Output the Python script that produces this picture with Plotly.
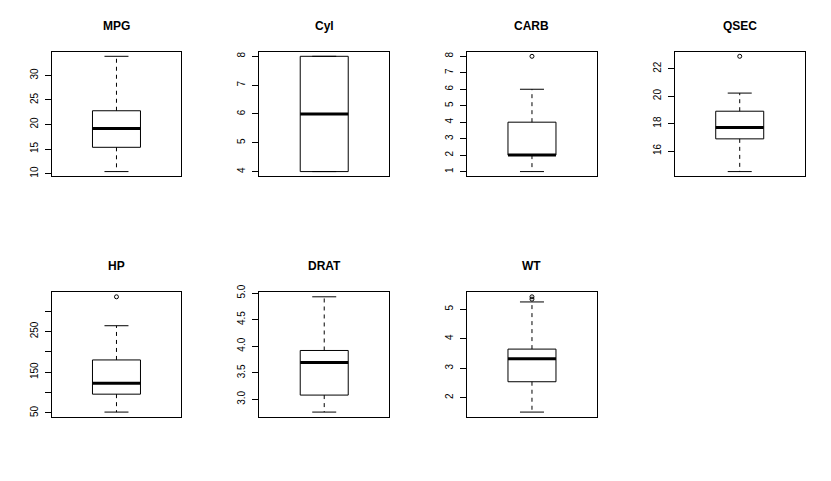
import plotly.graph_objects as go

# ---- data (five-number summaries) ----
names = ["MPG", "Cyl", "CARB", "QSEC", "HP", "DRAT", "WT"]
lower_whisker = [10.4, 4, 1, 14.5, 52, 2.76, 1.513]
q1 = [15.35, 4, 2, 16.885, 96, 3.08, 2.5425]
median = [19.2, 6, 2, 17.71, 123, 3.695, 3.325]
q3 = [22.8, 8, 4, 18.9, 180, 3.92, 3.65]
upper_whisker = [33.9, 8, 6, 20.22, 264, 4.93, 5.25]
outliers = [[], [], [8], [22.9], [335], [], [5.345, 5.424]]
tick_values = [
    [10, 15, 20, 25, 30],
    [4, 5, 6, 7, 8],
    [1, 2, 3, 4, 5, 6, 7, 8],
    [16, 18, 20, 22],
    [50, 100, 150, 200, 250, 300],
    [3.0, 3.5, 4.0, 4.5, 5.0],
    [2, 3, 4, 5],
]
tick_labels = [
    ["10", "15", "20", "25", "30"],
    ["4", "5", "6", "7", "8"],
    ["1", "2", "3", "4", "5", "6", "7", "8"],
    ["16", "18", "20", "22"],
    ["50", "", "150", "", "250", ""],
    ["3.0", "3.5", "4.0", "4.5", "5.0"],
    ["2", "3", "4", "5"],
]

# ---- layout constants (pixels) ----
W, H = 831, 481
NCOL, NROW = 4, 2
cell_w, cell_h = W / NCOL, H / NROW
m_left, m_right, m_top, m_bottom = 51.7, 26.5, 51.7, 64.3
BOX_HALF = 0.2
CAP_HALF = 0.1
FONT = "Liberation Sans, Arial, Helvetica, sans-serif"

fig = go.Figure()
layout = dict(
    template="none",
    width=W, height=H, margin=dict(l=0, r=0, t=0, b=0, autoexpand=False),
    paper_bgcolor="white", plot_bgcolor="white", showlegend=False,
    font=dict(family=FONT, color="black", size=10),
)
annotations = []

for i, name in enumerate(names):
    r, c = divmod(i, NCOL)
    x0 = c * cell_w + m_left
    x1 = (c + 1) * cell_w - m_right
    ytop = r * cell_h + m_top
    ybot = (r + 1) * cell_h - m_bottom
    sfx = "" if i == 0 else str(i + 1)
    xa, ya = "x" + sfx, "y" + sfx

    line = dict(color="black", width=1)
    # box
    fig.add_trace(go.Scatter(
        x=[1 - BOX_HALF, 1 + BOX_HALF, 1 + BOX_HALF, 1 - BOX_HALF, 1 - BOX_HALF],
        y=[q1[i], q1[i], q3[i], q3[i], q1[i]],
        mode="lines", line=line, xaxis=xa, yaxis=ya, hoverinfo="skip"))
    # whiskers (dashed)
    fig.add_trace(go.Scatter(
        x=[1, 1, None, 1, 1],
        y=[q3[i], upper_whisker[i], None, q1[i], lower_whisker[i]],
        mode="lines", line=dict(color="black", width=1, dash="4px,4px"),
        xaxis=xa, yaxis=ya, hoverinfo="skip"))
    # caps
    fig.add_trace(go.Scatter(
        x=[1 - CAP_HALF, 1 + CAP_HALF, None, 1 - CAP_HALF, 1 + CAP_HALF],
        y=[upper_whisker[i], upper_whisker[i], None, lower_whisker[i], lower_whisker[i]],
        mode="lines", line=line, xaxis=xa, yaxis=ya, hoverinfo="skip"))
    # median
    fig.add_trace(go.Scatter(
        x=[1 - BOX_HALF, 1 + BOX_HALF], y=[median[i], median[i]],
        mode="lines", line=dict(color="black", width=3),
        xaxis=xa, yaxis=ya, hoverinfo="skip"))
    # outliers
    if outliers[i]:
        fig.add_trace(go.Scatter(
            x=[1] * len(outliers[i]), y=outliers[i], mode="markers",
            marker=dict(symbol="circle-open", size=4, color="black",
                        line=dict(width=1, color="black")),
            xaxis=xa, yaxis=ya, hoverinfo="skip"))

    lo = min([lower_whisker[i]] + outliers[i])
    hi = max([upper_whisker[i]] + outliers[i])
    ext = 0.04 * (hi - lo)

    layout["xaxis" + sfx] = dict(
        domain=[x0 / W, x1 / W], range=[0.46, 1.54], anchor=ya,
        showgrid=False, zeroline=False, showticklabels=False, ticks="",
        showline=True, mirror=True, linecolor="black", linewidth=1,
        automargin=False, fixedrange=True)
    layout["yaxis" + sfx] = dict(
        domain=[1 - ybot / H, 1 - ytop / H], range=[lo - ext, hi + ext],
        anchor=xa, showgrid=False, zeroline=False,
        tickmode="array", tickvals=tick_values[i], ticktext=tick_labels[i],
        ticks="outside", ticklen=6, tickwidth=1, tickcolor="black",
        tickangle=-90, tickfont=dict(size=10, family=FONT),
        ticklabelstandoff=3,
        showline=True, mirror=True, linecolor="black", linewidth=1,
        automargin=False, fixedrange=True)

    annotations.append(dict(
        text="<b>" + name + "</b>", xref="paper", yref="paper",
        x=(x0 + x1) / 2 / W, y=1 - (ytop - 26) / H,
        xanchor="center", yanchor="middle", showarrow=False,
        font=dict(size=12, family=FONT, color="black")))

layout["annotations"] = annotations
fig.update_layout(**layout)
fig.write_html("out.html")
